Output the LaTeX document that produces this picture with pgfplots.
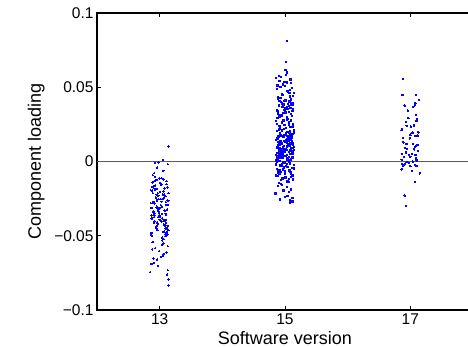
\documentclass[border=0pt]{standalone}
\usepackage{pgfplots}
\pgfplotsset{compat=1.18}
\usepackage{fontspec}
\setmainfont{Liberation Sans}
\definecolor{ptblue}{RGB}{0,0,255}
\definecolor{zerogray}{RGB}{90,90,90}
\begin{document}
\begin{tikzpicture}
\begin{axis}[
  at={(97bp,37bp)}, anchor=south west,
  scale only axis, width=376bp, height=297bp,
  xmin=12, xmax=18, ymin=-0.1, ymax=0.1,
  xtick={13,15,17}, xticklabels={13,15,17},
  ytick={-0.1,-0.05,0,0.05,0.1},
  yticklabels={−0.1,−0.05,0,0.05,0.1},
  tick align=inside, major tick length=4bp,
  axis line style={line width=1.1bp, black},
  every tick/.style={line width=0.9bp, black},
  tick label style={font=\fontsize{15.5bp}{18bp}\selectfont},
  label style={font=\fontsize{18bp}{21bp}\selectfont},
  xlabel={Software version},
  ylabel={Component loading},
  xlabel style={at={(rel axis cs:0.5,0)}, anchor=base, yshift=-34bp},
  ylabel style={at={(rel axis cs:0,0.5)}, anchor=base, yshift=56bp},
  clip=false,
  every axis plot/.append style={ptblue, only marks, mark=square*, mark size=0.7bp, mark options={draw=ptblue, fill=ptblue, line width=0pt}},
]
\addplot coordinates {
(13.14,0.0100) (13.05,0.0012) (12.93,-0.0010) (12.98,-0.0008) (13.13,-0.0018) (12.96,-0.0041) (13.06,-0.0063) (12.91,-0.0079)
(12.89,-0.0092) (13.06,-0.0121) (12.98,-0.0313) (13.12,-0.0452) (12.92,-0.0184) (13.03,-0.0271) (13.09,-0.0503) (12.87,-0.0382)
(13.01,-0.0143) (12.95,-0.0224) (13.10,-0.0411) (12.90,-0.0335) (13.04,-0.0531) (12.93,-0.0103) (13.13,-0.0292) (12.99,-0.0364)
(13.07,-0.0472) (12.88,-0.0195) (13.02,-0.0253) (12.96,-0.0431) (13.11,-0.0152) (12.91,-0.0344) (13.05,-0.0522) (12.97,-0.0213)
(13.08,-0.0392) (12.86,-0.0281) (13.00,-0.0114) (13.14,-0.0463) (12.94,-0.0242) (13.035,-0.0353) (12.885,-0.0171) (13.095,-0.0494)
(12.955,-0.0301) (13.065,-0.0423) (12.915,-0.0132) (13.125,-0.0262) (12.975,-0.0374) (12.89,-0.0541) (13.06,-0.0202) (12.98,-0.0322)
(13.12,-0.0443) (12.92,-0.0163) (13.03,-0.0404) (13.09,-0.0233) (12.87,-0.0481) (13.01,-0.0314) (12.95,-0.0124) (13.10,-0.0362)
(12.90,-0.0273) (13.04,-0.0512) (12.93,-0.0191) (13.13,-0.0434) (12.99,-0.0341) (13.07,-0.0223) (12.88,-0.0384) (13.02,-0.0155)
(12.96,-0.0461) (13.11,-0.0292) (12.91,-0.0413) (13.05,-0.0253) (12.97,-0.0334) (13.08,-0.0182) (12.86,-0.0491) (13.00,-0.0372)
(13.14,-0.0214) (12.94,-0.0441) (13.035,-0.0302) (12.885,-0.0142) (13.095,-0.0393) (12.955,-0.0263) (13.065,-0.0523) (12.915,-0.0353)
(13.125,-0.0174) (12.975,-0.0422) (12.89,-0.0281) (13.06,-0.0473) (12.98,-0.0231) (13.12,-0.0324) (12.92,-0.0402) (13.03,-0.0112)
(13.09,-0.0451) (12.87,-0.0363) (13.01,-0.0204) (12.95,-0.0312) (13.10,-0.0484) (12.90,-0.0272) (13.04,-0.0383) (12.93,-0.0161)
(13.13,-0.0433) (12.99,-0.0343) (13.07,-0.0242) (12.88,-0.0501) (13.02,-0.0294) (12.96,-0.0412) (13.11,-0.0133) (12.91,-0.0374)
(13.05,-0.0221) (12.97,-0.0462) (13.08,-0.0331) (12.86,-0.0193) (13.00,-0.0392) (13.14,-0.0264) (12.94,-0.0443) (13.035,-0.0303)
(12.885,-0.0543) (13.095,-0.0352) (12.955,-0.0184) (13.065,-0.0421) (12.915,-0.0282) (13.125,-0.0492) (12.975,-0.0322) (12.89,-0.0213)
(13.06,-0.0401) (12.98,-0.0253) (13.12,-0.0474) (12.92,-0.0364) (13.03,-0.0153) (13.09,-0.0432) (12.87,-0.0313) (13.01,-0.0371)
(12.95,-0.0451) (13.10,-0.0274) (12.90,-0.0342) (13.04,-0.0562) (12.93,-0.0583) (13.13,-0.0571) (12.99,-0.0604) (13.07,-0.0622)
(12.88,-0.0592) (13.02,-0.0643) (12.96,-0.0661) (13.11,-0.0613) (12.91,-0.0682) (13.05,-0.0634) (12.97,-0.0702) (13.13,-0.0731)
(13.12,-0.0762) (13.14,-0.0795) (13.14,-0.0834) (12.85,-0.0745) (12.90,-0.0652) (13.06,-0.0552) (12.87,-0.0690)
};
\addplot coordinates {
(15.03,0.0811) (15.02,0.0672)
(15.03,0.0598) (15.09,0.0552) (14.87,0.0489) (15.01,0.0616) (14.95,0.0455) (15.10,0.0528) (14.90,0.0575) (15.04,0.0474)
(14.93,0.0503) (15.13,0.0443) (14.99,0.0537) (15.07,0.0461) (14.88,0.0511) (15.02,0.0583) (14.96,0.0449) (15.11,0.0496)
(14.91,0.0544) (15.05,0.0468) (14.97,0.0519) (15.08,0.0481) (14.86,0.0561) (15.00,0.0507) (15.14,0.0462) (14.94,0.0571) (15.035,0.0533)
(14.885,0.0432) (15.095,0.0385) (14.955,0.0311) (15.065,0.0248) (14.915,0.0407) (15.125,0.0352) (14.975,0.0276) (14.89,0.0421)
(15.06,0.0333) (14.98,0.0219) (15.12,0.0395) (14.92,0.0298) (15.03,0.0364) (15.09,0.0231) (14.87,0.0343) (15.01,0.0412)
(14.95,0.0263) (15.10,0.0318) (14.90,0.0377) (15.04,0.0285) (14.93,0.0426) (15.13,0.0254) (14.99,0.0348) (15.07,0.0403)
(14.88,0.0292) (15.02,0.0226) (14.96,0.0369) (15.11,0.0306) (14.91,0.0241) (15.05,0.0389) (14.97,0.0327) (15.08,0.0437)
(14.86,0.0271) (15.00,0.0358) (15.14,0.0214) (14.94,0.0399) (15.035,0.0281) (14.885,0.0339) (15.095,0.0417) (14.955,0.0259)
(15.065,0.0372) (14.915,0.0302) (15.125,0.0236) (14.975,0.0384) (14.89,0.0323) (15.06,0.0267) (14.98,0.0408) (15.12,0.0341)
(14.92,0.0222) (15.03,0.0296) (15.09,0.0362) (14.87,0.0252) (15.01,0.0331) (14.95,0.0391) (15.10,0.0275) (14.90,0.0216)
(15.04,0.0354) (14.93,0.0314) (15.13,0.0381) (14.99,0.0244)
(15.07,0.0152) (14.88,0.0034) (15.02,0.0187) (14.96,0.0071) (15.11,0.0118) (14.91,0.0005) (15.05,0.0163) (14.97,0.0096)
(15.08,0.0201) (14.86,0.0042) (15.00,0.0135) (15.14,0.0078) (14.94,0.0176) (15.035,0.0019) (14.885,0.0109) (15.095,0.0147)
(14.955,0.0058) (15.065,0.0192) (14.915,0.0087) (15.125,0.0124) (14.975,-0.0006) (14.89,0.0168) (15.06,0.0063) (14.98,0.0139)
(15.12,0.0028) (14.92,0.0183) (15.03,0.0101) (15.09,0.0049) (14.87,0.0157) (15.01,0.0082) (14.95,0.0208) (15.10,0.0013)
(14.90,0.0129) (15.04,0.0171) (14.93,0.0067) (15.13,0.0114) (14.99,0.0039) (15.07,0.0196) (14.88,0.0093) (15.02,0.0143)
(14.96,0.0024) (15.11,0.0161) (14.91,0.0075) (15.05,0.0119) (14.97,0.0052) (15.08,0.0185) (14.86,0.0008) (15.00,0.0133)
(15.14,0.0098) (14.94,0.0174) (15.035,0.0045) (14.885,0.0155) (15.095,0.0069) (14.955,0.0204) (15.065,0.0031) (14.915,0.0126)
(15.125,0.0089) (14.975,0.0166) (14.89,0.0016) (15.06,0.0141) (14.98,0.0106) (15.12,0.0059) (14.92,0.0189) (15.03,0.0079)
(15.09,0.0121) (14.87,0.0001) (15.01,0.0178) (14.95,0.0047) (15.10,0.0149) (14.90,0.0092) (15.04,0.0198) (14.93,0.0036)
(15.13,0.0116) (14.99,0.0065) (15.07,0.0159) (14.88,0.0021) (15.02,0.0137) (14.96,0.0084) (15.11,0.0181) (14.91,0.0054)
(15.05,0.0111) (14.97,0.0169) (15.08,0.0011) (14.86,0.0145) (15.00,0.0073) (15.14,0.0194) (14.94,0.0043) (15.035,0.0127)
(14.885,0.0099) (15.095,0.0163) (14.955,0.0027) (15.065,0.0153) (14.915,0.0061) (15.125,0.0186) (14.975,0.0086) (14.89,0.0131)
(15.06,-0.0004) (14.98,0.0172) (15.12,0.0051) (14.92,0.0113) (15.03,0.0148) (15.09,0.0076) (14.87,0.0206) (15.01,0.0038)
(14.95,0.0122) (15.10,0.0091) (14.90,0.0165) (15.04,0.0014) (14.93,0.0139) (15.13,0.0068) (14.99,0.0179) (15.07,0.0103)
(14.88,0.0056) (15.02,0.0191) (14.96,0.0081) (15.11,0.0134) (14.91,0.0023) (15.05,0.0157) (14.97,0.0095) (15.08,0.0175)
(14.86,-0.0021) (15.00,-0.0083) (15.14,-0.0047) (14.94,-0.0126) (15.035,-0.0015) (14.885,-0.0065) (15.095,-0.0104) (14.955,-0.0032)
(15.065,-0.0139) (14.915,-0.0058) (15.125,-0.0091) (14.975,-0.0011) (14.89,-0.0075) (15.06,-0.0118) (14.98,-0.0041) (15.12,-0.0097)
(14.92,-0.0026) (15.03,-0.0134) (15.09,-0.0069) (14.87,-0.0052) (15.01,-0.0109) (14.95,-0.0018) (15.10,-0.0086) (14.90,-0.0143)
(15.04,-0.0037) (14.93,-0.0072) (15.13,-0.0121) (14.99,-0.0008) (15.07,-0.0061) (14.88,-0.0099) (15.02,-0.0029) (14.96,-0.0114)
(15.11,-0.0044) (14.91,-0.0081) (15.05,-0.0131) (14.97,-0.0055) (15.08,-0.0013) (14.86,-0.0093) (15.00,-0.0067) (15.14,-0.0024)
(14.94,-0.0152) (15.035,-0.0171) (14.885,-0.0163) (15.095,-0.0188) (14.955,-0.0158) (15.065,-0.0205) (14.85,-0.0215) (15.12,-0.0245)
(14.975,-0.0196) (15.00,-0.0240) (15.08,-0.0262) (15.12,-0.0270) (14.92,-0.0255) (15.08,-0.0278) (15.04,-0.0231)
};
\addplot coordinates {
(16.885,0.0556) (16.875,0.0448) (17.088,0.0448) (17.135,0.0414) (16.91,0.0376) (17.08,0.0392) (17.05,0.0369) (17.07,0.0381)
(17.088,0.0313) (17.10,0.0273) (16.93,0.0264) (16.94,0.0241) (16.87,0.0219) (16.86,0.0212) (17.02,0.0190) (17.04,0.0194)
(17.00,0.0178) (17.08,0.0172) (17.12,0.0174) (16.99,0.0156) (16.94,0.0118) (17.08,0.0100) (17.10,0.0109) (17.12,0.0113)
(17.06,0.0082) (16.95,0.0084) (16.87,0.0050) (16.90,0.0032) (16.98,0.0044) (17.00,0.0032) (17.08,0.0044) (17.12,0.0070)
(17.11,0.0010) (17.10,0.0005) (17.04,-0.0001) (16.94,-0.0005) (16.98,-0.0012) (16.91,-0.0019) (16.87,-0.0019) (16.88,-0.0031)
(17.00,-0.0031) (17.10,-0.0031) (16.86,-0.0053) (17.03,-0.0062) (17.15,-0.0080) (17.07,-0.0140) (16.91,-0.0230) (16.93,-0.0298)
(16.97,0.0291) (17.06,0.0243) (16.89,0.0128) (17.13,0.0196) (16.93,0.0061) (17.01,0.0235) (17.09,0.0021) (16.88,0.0158)
(17.04,0.0119) (16.96,0.0343) (17.11,0.0285) (16.92,0.0089) (17.03,0.0052) (16.86,0.0012) (17.07,-0.0024)
};
\addplot[zerogray, line width=1.2bp, no marks, sharp plot, forget plot] coordinates {(12,0) (18,0)};
\end{axis}
\pgfresetboundingbox
\path[use as bounding box] (0,0) rectangle (468bp,347bp);
\end{tikzpicture}
\end{document}
